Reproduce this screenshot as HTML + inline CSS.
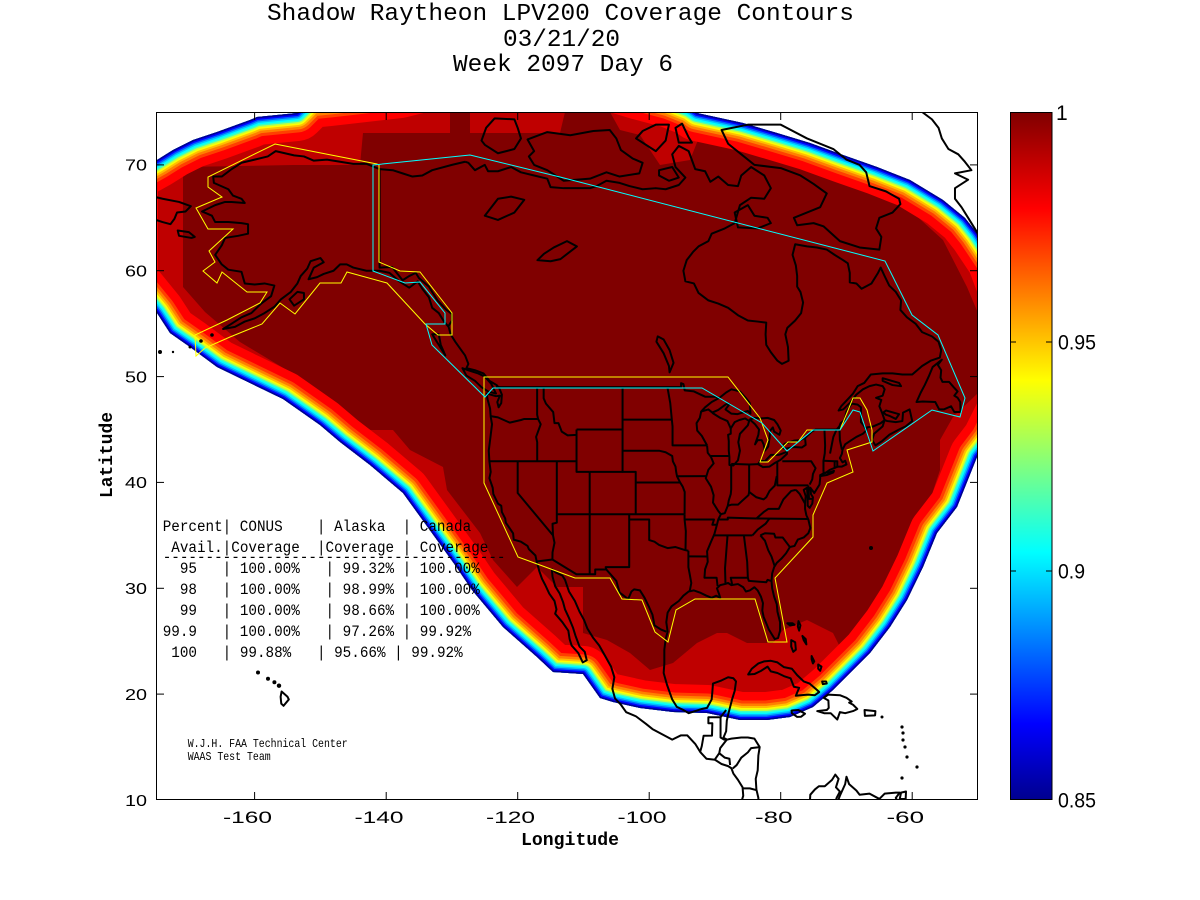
<!DOCTYPE html>
<html><head><meta charset="utf-8"><style>
html,body{margin:0;padding:0;background:#fff;}
svg{display:block;}
.m{font-family:"Liberation Mono",monospace;fill:#000;}
.s{font-family:"Liberation Sans",sans-serif;fill:#000;}
.c{fill:none;stroke:#000;stroke-width:2;vector-effect:non-scaling-stroke;stroke-linejoin:round;}
.tb text{white-space:pre;}
</style></head><body>
<svg width="1200" height="900" viewBox="0 0 1200 900" xmlns="http://www.w3.org/2000/svg">
<defs>
<clipPath id="plot"><rect x="156" y="112" width="822" height="688"/></clipPath>
<clipPath id="cov"><polygon id="outerp" points="130,175 157,160 173,150 193,140 217,132 250,120 257,117 297,113 310,100 330,98 400,90 440,80 600,80 640,92 670,100 690,108 697,113 743,123 777,133 810,143 843,155 877,167 910,180 943,200 965,218 977,233 995,260 1010,300 1010,400 990,440 977,457 957,507 937,533 923,567 907,600 890,627 870,653 850,673 833,690 813,707 790,717 767,720 740,720 707,713 673,712 640,708 613,702 600,698 583,674 553,672 537,657 503,627 472,590 455,565 437,540 403,493 370,465 340,442 320,425 283,399 250,383 217,367 190,347 170,333 157,313 130,280"/></clipPath>
<linearGradient id="jet" x1="0" y1="1" x2="0" y2="0">
<stop offset="0" stop-color="#00008f"/><stop offset="0.11" stop-color="#0000ff"/><stop offset="0.36" stop-color="#00ffff"/><stop offset="0.61" stop-color="#ffff00"/><stop offset="0.86" stop-color="#ff0000"/><stop offset="1" stop-color="#800000"/>
</linearGradient>
</defs>

<text class="m" x="267" y="20" font-size="24.4" textLength="587" lengthAdjust="spacingAndGlyphs">Shadow Raytheon LPV200 Coverage Contours</text>
<text class="m" x="503" y="46" font-size="24.4" textLength="117" lengthAdjust="spacingAndGlyphs">03/21/20</text>
<text class="m" x="453" y="71" font-size="24.4" textLength="220" lengthAdjust="spacingAndGlyphs">Week 2097 Day 6</text>

<g clip-path="url(#plot)">
  <use href="#outerp" fill="#bf0000"/>
  <polygon fill="#800000" points="183,167 293,165 360,165 363,133 450,133 450,112 470,112 470,133 560,133 565,112 610,112 620,130 640,135 660,165 690,160 700,135 730,140 775,145 795,160 830,167 860,177 885,193 910,210 943,240 967,287 978,313 978,393 953,417 940,440 940,470 930,500 917,527 907,553 893,580 873,607 860,633 840,647 833,633 807,620 783,630 773,643 747,643 727,633 717,633 697,643 673,663 650,670 630,653 607,640 583,633 583,587 557,587 537,567 517,587 493,560 480,533 447,490 443,467 410,450 393,430 370,430 330,402 290,372 240,342 205,312 183,287"/>
  <g clip-path="url(#cov)" fill="none" stroke-linejoin="round">
    <use href="#outerp" stroke="#ff0000" stroke-width="56"/>
    <use href="#outerp" stroke="#ff4000" stroke-width="39"/>
    <use href="#outerp" stroke="#ff8000" stroke-width="33"/>
    <use href="#outerp" stroke="#ffbf00" stroke-width="28"/>
    <use href="#outerp" stroke="#ffff00" stroke-width="24"/>
    <use href="#outerp" stroke="#bfff40" stroke-width="21"/>
    <use href="#outerp" stroke="#40ffbf" stroke-width="18"/>
    <use href="#outerp" stroke="#00ffff" stroke-width="15"/>
    <use href="#outerp" stroke="#00bfff" stroke-width="12"/>
    <use href="#outerp" stroke="#0060ff" stroke-width="9"/>
    <use href="#outerp" stroke="#0000ff" stroke-width="6"/>
    <use href="#outerp" stroke="#00008f" stroke-width="3"/>
  </g>

  <g transform="matrix(6.576 0 0 -10.585 1306.8 905.85)">
    <polyline class="c" points="-128,70.3 -130,70 -133,69.5 -134.5,69 -136,68.9 -137.5,69.2 -139,69.5 -141,69.6 -143,70.1 -145,70.1 -147,70.3 -149,70.5 -151,70.4 -152.5,70.8 -154,70.9 -156.8,71.3 -158,70.8 -160,70.5 -162,70.2 -163.5,69.6 -165,68.9 -166.3,68.9 -166.2,68.3 -164,67.7 -163.3,67.1 -162,66.8 -161.5,66.4 -163.5,66.5 -164.5,66.5 -166,66.2 -168,65.6 -166.5,65.2 -166,64.6 -164,64.6 -162,64.5 -161,64.4 -161,63.5 -162.5,63.3 -164.5,63.1 -165,62.4 -166,61.5 -165,60.6 -164,60.1 -162,59.9 -161.5,58.8 -160,58.7 -158.5,58.8 -157,58.6 -157.5,57.6 -159,56.9 -160.5,56 -162,55.6 -163.5,55 -164.8,54.5 -163,54.7 -161.5,55.2 -160,55.5 -158.5,56 -157,56.6 -156,57.3 -154.5,58 -153.5,58.8 -153,59.5 -152,60.2 -151.5,60.9 -150,61.2 -149.5,60.8 -151,60.3 -151.8,59.2 -150.5,59.4 -149.5,59.7 -148,60 -147,60.6 -146,60.6 -145,60.3 -143,60 -141,60 -139.5,59.8 -138,59 -136.5,58.4 -135.2,59 -134.5,58.3 -133.5,57.5 -133,56.5 -132,56 -131.2,55.2 -130.5,54.7 -130.2,54 -129.5,53.3 -128.7,52.6 -128,52 -127.5,51.2 -127.8,50.8 -126.5,50.6 -125.2,50.3 -124.3,49.6 -123.2,49.2 -122.8,48.9 -122.4,48.3 -122.5,47.5 -122.9,47.1 -123.1,47.6 -122.7,48.2 -123.3,48.15 -124.7,48.4 -124.6,47.9 -124.2,47 -124.1,46.2 -123.9,45.5 -124.1,44.5 -124.4,43 -124.3,42 -124.1,41 -124.3,40.4 -123.8,39.5 -123.7,38.9 -123,38 -122.5,37.8 -122.4,37.2 -121.9,36.6 -121.8,36.2 -120.7,35.2 -120.6,34.6 -119.5,34.4 -118.5,34 -118.3,33.7 -117.3,33.1 -117.1,32.5 -116.7,31.6 -116.3,30.9 -115.8,30.3 -115.2,29.5 -114.4,28.8 -114.1,28 -114.3,27.6 -113.2,26.8 -112.3,26 -112.1,25.2 -111.8,24.6 -110.8,23.9 -110.1,23 -109.5,23.2 -109.8,24 -110.6,24.5 -111.2,25.5 -111.6,26.3 -112.2,27.2 -112.8,28 -113.1,28.7 -113.6,29.5 -114.3,30.2 -114.7,31.1 -114.8,31.8 -114.2,31.5 -113.2,31.2 -112.8,30.8 -112.2,29.7 -111.3,28.8 -110.6,27.8 -109.9,27 -109.4,26.2 -108.5,25.3 -107.6,24.6 -106.7,23.6 -105.8,22.6 -105.3,21.6 -105.6,20.5 -105.2,19.6 -104.3,19 -103.5,18.3 -102,17.9 -100.5,17.2 -99.5,16.7 -98,16.2 -96.5,15.7 -95.2,16.1 -94.2,16.1 -93,15.3 -92.2,14.5 -91.3,13.9 -90,13.8 -89,13.4 -88,13.2 -87.5,13 -87.2,12.5 -86.5,11.9 -85.8,11.2 -85.7,10.4 -85.9,10 -85.6,9.6"/>
    <polyline class="c" points="-83.4,9.6 -83.4,10.2 -83.7,11 -83.8,12 -83.5,12.8 -83.4,14.2 -83.2,15 -84,15.8 -85,15.9 -86,15.9 -87.5,15.8 -88.2,15.7 -88.7,15.9 -88.3,16.5 -88.2,17.5 -87.9,18.3 -87.4,19.5 -87,20.3 -86.8,21.2 -87.2,21.5 -88,21.6 -89,21.3 -90.3,21 -90.4,20.2 -90.5,19.5 -91.2,18.7 -92,18.6 -93,18.4 -94,18.2 -94.8,18.5 -95.8,18.8 -96.5,19.5 -96.9,20.2 -97.3,20.9 -97.8,22 -97.7,22.9 -97.7,24.2 -97.5,25.2 -97.2,25.9 -97.4,26.8 -97.2,27.7 -96.6,28.3 -95.5,28.8 -94.8,29.3 -94,29.7 -93.2,29.8 -92.3,29.6 -91.3,29.3 -90.5,29.1 -89.8,29.3 -89.2,29.1 -89.4,29.5 -89.7,30 -89.2,30.3 -88.5,30.4 -88,30.5 -87.5,30.3 -86.5,30.4 -85.7,30.1 -85.3,29.7 -84.7,29.8 -84,30.1 -83.5,29.8 -83,29.2 -82.7,28.6 -82.8,27.9 -82.6,27.3 -82.2,26.7 -81.8,26.1 -81.3,25.6 -80.9,25.2 -80.4,25.3 -80.1,26 -80.1,26.8 -80.5,27.8 -80.6,28.5 -81,29.2 -81.3,30 -81.4,30.7 -81.3,31.4 -81,32 -80.6,32.4 -79.9,32.8 -79.2,33.3 -78.6,33.9 -77.9,34 -77.4,34.6 -76.5,34.8 -75.8,35.2 -75.5,35.7 -75.8,36.5 -76.1,36.9 -76.3,37.5 -76.3,38 -76.2,38.7 -76.5,39.3 -76,39.5 -75.9,38.5 -75.9,37.8 -75.6,37.6 -75.2,38 -75.1,38.6 -75.4,38.9 -75.5,39.5 -74.9,39 -74.6,39.3 -74.1,39.8 -74,40.4 -74,40.7 -73.2,40.9 -72.5,41.2 -71.3,41.5 -70.7,41.5 -70,41.7 -70.2,42.05 -70.6,41.9 -71,42.3 -70.7,42.7 -70.6,43.1 -70.2,43.6 -69.5,43.9 -68.5,44.3 -67.5,44.6 -67,44.9 -66.9,45.2 -65.9,45.3 -64.8,45.6 -64.2,45.9 -64.5,45.3 -65.8,44.6 -66.1,44 -65.6,43.5 -64.6,43.9 -63.5,44.5 -62,45 -61,45.3 -60,45.8 -60.4,46.9 -61.4,46.6 -61.5,45.8 -62.5,45.7 -63.8,45.8 -64.2,45.9 -64.6,46.6 -65,47.2 -64.7,47.8 -65.5,48 -64.5,48.2 -64.2,48.8 -64.5,49.1 -65.5,49.25 -66.5,49.1 -67.5,48.8 -68.5,48.3 -69.5,47.5 -70.5,46.9 -71.2,46.8 -70.8,47.2 -69.9,47.8 -69,48.4 -68.3,49.1 -67.3,49.4 -66.3,50.2 -64.5,50.3 -63,50.3 -61.5,50.2 -60,50.2 -58.5,51 -57.2,51.5 -55.8,51.8 -55.6,52.5 -56,53.3 -57,53.8 -58.5,54.2 -59.5,55 -60.8,55.6 -61.8,56.3 -61.7,57.2 -62.5,58 -63.5,58.6 -64.2,59.5 -64.8,60.3 -65.2,59.8 -66.2,58.8 -67.7,58.3 -68.5,58.8 -69.5,58.9 -69.5,59.8 -69.8,60.7 -70.5,61 -71.8,61.5 -73,62 -74.5,62.2 -76,62.3 -77.8,62.5 -78.2,61.5 -77.7,60.5 -77.5,59.5 -77.5,58.5 -77,58 -76.6,57 -76.9,56 -77.8,55.3 -79,54.6 -79.3,54 -78.9,52.8 -78.8,51.5 -79.8,51.2 -80.5,51.5 -81.5,52.3 -82.2,53 -82.3,54 -82.2,55.1 -83.5,55.2 -85,55.3 -86.5,55.8 -88,56.5 -89.5,56.9 -91,57.2 -92.5,57.9 -93.2,58.8 -94.5,59 -94.8,60 -94.3,61 -93.3,61.8 -92.5,62.3 -91,62.8 -90.5,63.5 -88.5,64 -87,64.5 -86.2,66.2 -84.5,66.9 -82.5,66.8 -81.5,67.8 -82.5,69 -84.5,69.8 -86,69 -86.5,68 -88,68.1 -89.5,68.9 -90.7,68.4 -91.5,69.4 -93,69.6 -94,71.3 -95.5,71.8 -96.5,71 -96,69.8 -94.5,68.8 -95.5,68.1 -97.5,67.7 -99,67.8 -101,67.7 -103,68 -104.5,68.3 -106.5,68.5 -108,68 -109,67.8 -111,67.8 -113,67.8 -115,67.9 -115.5,68.7 -117.5,69 -119.5,69.3 -121,69.8 -123,69.4 -124.5,69.4 -125,70 -126.5,69.5 -127.5,70.2 -128,70.3"/>
    <polygon class="c" points="-80,73.8 -76,72.5 -72,71.5 -70,70.5 -68,70 -67,69.3 -66.5,68 -64,67.5 -62,66.8 -61.8,66.3 -63,65.5 -65,65 -65.5,64 -64.7,63.2 -65,62 -68,62.2 -71,62.8 -73.5,64.2 -75,64.5 -77.5,64.3 -78,65 -74,66 -73,67.3 -75,68.2 -77,69 -80,69.7 -84,70 -86,71 -88,72 -89,73.3 -85,73.8"/>
    <polygon class="c" points="-86.5,64.1 -83.5,64 -81.5,64.5 -82,65 -84,65.2 -85,66.2 -87,65.5"/>
    <polygon class="c" points="-101,70.2 -101.5,69.2 -104.5,68.9 -106.5,69.3 -109,68.7 -113,68.5 -115.5,69.5 -117.5,70 -118.3,70.8 -117.5,71.3 -118.5,72.4 -115.5,73.1 -112,72.8 -108.5,73.2 -106,73.3 -105,72.5 -104.3,71.4 -102.5,70.6"/>
    <polygon class="c" points="-125,71.9 -123,71.1 -120.5,71.5 -119.5,72.5 -120,73.5 -120.5,74.3 -123.5,74.4 -124.8,73.5 -125.5,72.3"/>
    <polygon class="c" points="-97,73.8 -97.5,72.3 -99,71.3 -102,72.5 -101,73.2 -99,73.8"/>
    <polygon class="c" points="-95,73.9 -94,72.6 -93.5,72.1 -95.5,72.1 -96,73.5"/>
    <polygon class="c" points="-98.5,69 -97,68.5 -95.5,68.8 -96.5,69.8 -98.5,69.5"/>
    <polyline class="c" points="-58.5,75 -57,74.3 -56,73.5 -55.5,72.5 -54.5,71.5 -53,71 -52,70.3 -51,69.5 -53.5,69.2 -51.5,68.6 -53.5,67.8 -53.5,66.8 -52.5,66 -51.5,65 -50.5,64 -50,63.5"/>
    <polyline class="c" points="-176,67.1 -174,66.8 -171.5,66.5 -169.7,66.1 -170.5,65.6 -171.8,65.5 -172.2,64.9 -172.8,64.4 -174,64.6 -175.5,64.9 -176,65"/>
    <polygon class="c" points="-171.7,63.8 -170,63.65 -169.1,63.2 -169.6,63.1 -171.5,63.3"/>
    <polygon class="c" points="-152.5,57.3 -154,56.7 -154.7,57.3 -153.5,58 -152.5,57.9"/>
    <polygon class="c" points="-123.3,48.4 -124.5,48.6 -125.5,49 -126.5,49.6 -127.8,50.1 -128.4,50.8 -127.5,50.6 -126,50.3 -125,50 -124,49.3"/>
    <polygon class="c" points="-131,52 -131.5,52.5 -132.5,53.5 -133,54 -132,54 -131.7,53"/>
    <polygon class="c" points="-59.35,47.6 -58.4,47.65 -56.5,47.6 -55.9,46.9 -55.2,46.9 -54.1,47.2 -53.6,46.65 -52.65,46.65 -52.7,47.6 -53.1,48 -53.6,48.2 -53.1,48.6 -53.7,49 -54.4,49.5 -55.4,49.5 -55.7,49.9 -55.6,50.6 -56.1,51.1 -55.5,51.6 -56.9,50.9 -57.5,50 -58.1,49.2 -58.7,48.5"/>
    <polygon class="c" points="-64.4,46.6 -64,46.8 -62,46.45 -62.5,46 -63.5,46.3 -64,46.4"/>
    <polygon class="c" points="-64.5,49.85 -62,49.4 -61.7,49.1 -63,49.2 -64.5,49.6"/>
    <polygon class="c" points="-74,40.6 -73,40.7 -72,40.95 -71.9,41.1 -72.6,40.95 -73.5,40.9"/>
    <polygon class="c" points="-92.1,46.7 -91,46.9 -90.4,46.6 -89.5,46.85 -88.3,47.4 -87.8,47.4 -88.4,46.9 -87.5,46.5 -86.6,46.45 -85,46.75 -84.6,46.5 -84.7,47.5 -85.2,47.9 -86.2,48.6 -87.5,48.8 -88.3,48.5 -89.3,48 -90.5,47.6 -91.5,47.1"/>
    <polygon class="c" points="-87.8,41.65 -87.2,41.6 -86.5,42.1 -86.2,43 -86.45,43.8 -86.2,44.6 -85.6,45 -85,45.4 -84.8,45.8 -85.4,46.05 -86.3,45.9 -87,45.7 -87.6,45.1 -87.6,44.6 -88,44.5 -87.9,43.9 -87.9,43 -87.8,42.4"/>
    <polygon class="c" points="-84.7,45.95 -84,46.1 -83,46.05 -82,46.1 -81,45.9 -80.5,45.5 -80,44.9 -80.2,44.5 -81,44.8 -81.2,45.2 -81.6,44.9 -81.7,44.2 -81.9,43.4 -82.4,43 -82.6,43.6 -82.9,44 -83.5,44 -83.9,43.6 -83.4,44.5 -83.3,45 -83.9,45.5"/>
    <polygon class="c" points="-83.45,41.73 -82.7,41.45 -81.7,41.5 -81,41.8 -80,42.15 -79.05,42.7 -79.05,42.9 -80.3,42.6 -81.5,42.6 -82.4,42 -83.1,42.05"/>
    <polygon class="c" points="-79.8,43.25 -79.2,43.2 -78,43.35 -76.8,43.3 -76.2,43.55 -76.3,44.2 -77,44 -78,43.95 -79.4,43.65"/>
    <polygon class="c" points="-96.9,50.4 -96.3,51.3 -96.9,52.5 -97.8,53.5 -98.7,53.8 -98.9,53.3 -97.8,52.2 -97,51"/>
    <polygon class="c" points="-117,61 -115,60.9 -113.5,61.1 -111,62.3 -112.5,62.8 -114.5,62.2 -116,61.6"/>
    <polygon class="c" points="-125,65.2 -123,64.8 -120.5,65.5 -119,66.7 -121,67 -123,66.8"/>
    <polygon class="c" points="-84.95,21.86 -84.4,22.4 -83.4,22.9 -82.5,23.1 -81.5,23.15 -80.5,23 -79.5,22.55 -78.3,22.4 -77.5,21.8 -76.5,21.2 -75.6,21 -74.5,20.4 -74.15,20.2 -74.8,19.9 -75.8,19.95 -77,19.9 -77.7,19.85 -77.2,20.6 -78,20.7 -78.5,21.5 -79.5,21.7 -80.5,22 -81.5,22.15 -82,22.6 -83,22.2 -84,21.9"/>
    <polygon class="c" points="-74.45,18.4 -73.4,18.2 -72.4,18.2 -71.4,17.6 -71,18.3 -70.2,18.2 -69,18.4 -68.35,18.6 -69,19 -69.6,19.2 -69.2,19.3 -70,19.65 -71,19.9 -72.8,19.95 -73.45,19.65 -72.75,19.4 -72.7,18.7 -73,18.5"/>
    <polygon class="c" points="-78.35,18.45 -77.3,18.5 -76.3,18.15 -76.9,17.87 -77.5,17.85 -78.3,18.2"/>
    <polygon class="c" points="-67.25,18.5 -65.6,18.4 -65.65,18 -67.2,17.95"/>
    <polygon class="c" points="-78.4,25.1 -77.8,24.9 -77.7,24.2 -78.1,24 -78.4,24.5"/>
    <polygon class="c" points="-79,26.7 -78.2,26.7 -77.9,26.55 -78.6,26.5"/>
    <polygon class="c" points="-77.3,26.9 -77,26.5 -77.2,26 -77.4,26.4"/>
    <polygon class="c" points="-76.7,25.5 -76.2,25.2 -76.1,24.7 -76.5,25.1"/>
    <polygon class="c" points="-75.3,23.6 -74.9,23.1 -75.1,22.9 -75.3,23.3"/>
    <polygon class="c" points="-73.7,21.2 -73.1,21.2 -73,21 -73.6,20.95"/>
    <polygon class="c" points="-74.3,22.8 -73.8,22.6 -74,22.2 -74.3,22.4"/>
    <polyline class="c" points="-77.3,8.6 -76.8,8.9 -75.6,9.5 -75.5,10.5 -74.8,11 -74.2,11.3 -73.3,11.3 -72.2,11.9 -71.7,12.4 -71.2,12 -71.6,11.2 -71,10.8 -71.5,10.2 -71.8,9.6 -72.3,9.6"/>
    <polyline class="c" points="-71.5,9.6 -71,10.4 -70.2,11.5 -70,12.2 -69.6,11.5 -68.5,10.9 -68,10.5 -66.5,10.6 -65,10.1 -64.2,10.6 -62.5,10.7 -61.9,10.7 -62.5,10.2 -62,9.6"/>
    <polygon class="c" points="-61.9,10.1 -61,10.1 -60.95,10.8 -61.7,10.7"/>
    <polyline class="c" points="-92.25,14.55 -92,15.1 -91.73,16.07 -90.45,16.08 -90.4,17.25 -91,17.25 -91,17.82 -89.15,17.82 -88.3,18.5"/>
    <polyline class="c" points="-89.15,17.82 -89.15,15.9 -88.6,15.7 -88.2,15.75"/>
    <polyline class="c" points="-88.2,15.7 -89.2,14.9 -89.35,14.42 -90.1,13.75"/>
    <polyline class="c" points="-89.35,14.42 -88.5,14 -87.8,13.9 -87.7,13.3"/>
    <polyline class="c" points="-87.3,12.98 -86.7,13.3 -86,14 -85,14.5 -84.5,14.9 -83.2,15"/>
    <polyline class="c" points="-85.7,11.1 -84.7,11.1 -83.65,10.93"/>
    <polyline class="c" points="-123.3,49 -95.15,49 -95.15,49.38 -94.8,49.3 -94.6,48.7 -93.2,48.6 -91.5,48.1 -90,48.1 -89.5,48"/>
    <polyline class="c" points="-124,46.25 -123,46.15 -121.2,45.65 -119.5,45.9 -119,46 -116.9,46"/>
    <polyline class="c" points="-117.04,49 -117.04,46.4 -116.9,46 -116.5,45.5 -117.2,44.3 -117.03,43.8 -117.03,42"/>
    <polyline class="c" points="-124.2,42 -111.05,42"/>
    <polyline class="c" points="-116.05,49 -116.05,47.95 -115.7,47.45 -114.6,46.65 -114.4,45.6 -113.8,45.6 -113.3,44.8 -112.4,44.45 -111.05,44.5 -111.05,45"/>
    <polyline class="c" points="-111.05,44.5 -111.05,41 -109.05,41"/>
    <polyline class="c" points="-111.05,45 -104.05,45"/>
    <polyline class="c" points="-104.05,49 -104.05,41 -102.05,41 -102.05,37"/>
    <polyline class="c" points="-109.05,41 -104.05,41"/>
    <polyline class="c" points="-109.05,41 -109.05,31.33"/>
    <polyline class="c" points="-120,42 -120,39 -114.63,35 -114.4,34.3 -114.7,33.4 -114.72,32.72"/>
    <polyline class="c" points="-114.05,42 -114.05,36.2 -114.7,36.1 -114.63,35"/>
    <polyline class="c" points="-114.05,37 -94.62,37"/>
    <polyline class="c" points="-103.04,37 -103.04,32 -106.62,32 -106.53,31.78"/>
    <polyline class="c" points="-103.04,36.5 -100,36.5 -100,34.56 -99.2,34.4 -98.5,34.1 -97.2,33.8 -96,33.9 -94.5,33.6 -94.04,33.55"/>
    <polyline class="c" points="-94.04,33.55 -94.04,32 -93.8,31.2 -93.6,30.5 -93.85,29.7"/>
    <polyline class="c" points="-94.04,33.02 -91.15,33"/>
    <polyline class="c" points="-94.62,37 -94.62,36.5 -94.43,35.4 -94.48,33.64"/>
    <polyline class="c" points="-94.62,36.5 -90.15,36.5 -90.4,36 -89.7,36"/>
    <polyline class="c" points="-104.05,45.94 -96.56,45.94"/>
    <polyline class="c" points="-104.05,43 -98.5,43 -97.5,42.85 -96.5,42.5 -96.4,42 -96,41.5 -95.9,41 -95.77,40.58 -95.3,40 -94.9,39.6 -94.6,39.1 -94.62,37"/>
    <polyline class="c" points="-102.05,40 -95.3,40"/>
    <polyline class="c" points="-96.56,45.94 -96.8,47.5 -97.23,49"/>
    <polyline class="c" points="-96.56,45.94 -96.45,45.3 -96.45,43.5 -91.2,43.5"/>
    <polyline class="c" points="-95.77,40.58 -91.4,40.6"/>
    <polyline class="c" points="-92.1,46.7 -92.3,46.1 -92.8,45.6 -92.7,44.9 -92,44.4 -91.2,43.5"/>
    <polyline class="c" points="-91.2,43.5 -91.1,42.8 -90.6,42.4 -90.2,41.8 -91,41.2 -91.4,40.4 -90.6,39.6 -90.2,38.8 -90.3,38.1 -89.5,37.3 -89.1,37 -89.5,36.5 -89.7,36 -90.1,35.1 -90.6,34.4 -91.2,33.5 -91.1,32.5 -91.5,31.8 -91.6,31 -89.75,31 -89.6,30.2"/>
    <polyline class="c" points="-90.64,42.5 -87.8,42.5"/>
    <polyline class="c" points="-90.4,46.57 -89.2,46.1 -88.1,45.8 -87.6,45.1"/>
    <polyline class="c" points="-87.53,41.7 -87.53,39.35 -87.6,38.9 -87.9,38.3 -88.05,37.8"/>
    <polyline class="c" points="-89.1,37 -88.5,37.1 -88.05,37.8 -87.5,37.9 -86.5,37.9 -85.8,38.3 -84.9,38.8 -84.8,39.1 -83.7,38.6 -82.6,38.4 -82.2,38.6 -81.7,39.2 -80.9,39.7 -80.6,40.6"/>
    <polyline class="c" points="-84.8,41.7 -84.8,39.1"/>
    <polyline class="c" points="-87.53,41.76 -84.8,41.7 -83.45,41.73"/>
    <polyline class="c" points="-89.5,36.5 -88.05,36.5 -88.05,36.68 -83.7,36.6"/>
    <polyline class="c" points="-90.3,35 -84.3,35"/>
    <polyline class="c" points="-84.3,35 -83.5,35.55 -82.3,36.1 -81.7,36.6"/>
    <polyline class="c" points="-83.7,36.6 -75.87,36.55"/>
    <polyline class="c" points="-83.7,36.6 -82.6,37.2 -81.9,37.5 -80.3,37.5 -79.6,38.4 -78.4,39.2 -77.7,39.3"/>
    <polyline class="c" points="-80.52,42 -80.52,39.72 -75.8,39.72"/>
    <polyline class="c" points="-79.76,42 -75.36,42 -74.7,41.35 -75.1,40.8 -75.2,40.3 -75.6,39.8"/>
    <polyline class="c" points="-75.8,39.72 -75.7,38.45 -75.05,38.45"/>
    <polyline class="c" points="-77.7,39.3 -77.1,38.9 -76.3,38"/>
    <polyline class="c" points="-88.2,35 -88.1,34.9 -88.47,31.9 -88.4,30.4"/>
    <polyline class="c" points="-85.6,35 -85.1,32.5 -85,31"/>
    <polyline class="c" points="-87.4,30.4 -87.6,31 -85,31 -84.86,30.7 -82.2,30.57 -82,30.8 -81.5,30.7"/>
    <polyline class="c" points="-83.1,35 -82.4,34.5 -81.9,33.6 -81.4,33 -80.9,32.05"/>
    <polyline class="c" points="-83.1,35 -82.4,35.2 -81,35.15 -80.8,34.8 -79.7,34.8 -78.55,33.85"/>
    <polyline class="c" points="-73.35,45 -73.25,43.5 -73.3,42.75 -73.5,42.05 -73.5,41"/>
    <polyline class="c" points="-71.5,45 -72,44.3 -72.5,42.73"/>
    <polyline class="c" points="-71.08,45.3 -71,44 -70.7,43.1"/>
    <polyline class="c" points="-73.5,42.05 -71.8,42 -71.4,42 -71.4,41.4"/>
    <polyline class="c" points="-71.8,42 -71.8,41.3"/>
    <polyline class="c" points="-76.3,44.2 -75.3,44.8 -74.7,45 -73.35,45 -71.5,45 -71.08,45.3 -70.9,45.6 -70.3,45.9 -70,46.7 -69.2,47.45 -68.3,47.35 -67.8,47.1 -67.8,45.7 -67.4,45.4 -67,45"/>
    <polyline class="c" points="-117.12,32.53 -114.72,32.72 -111.07,31.33 -108.21,31.33 -108.21,31.78 -106.53,31.78 -105,30.7 -104.5,29.6 -103.2,28.98 -102.7,29.7 -102.3,29.9 -101.4,29.8 -100.7,29.1 -100,28.2 -99.5,27.5 -99.2,26.5 -98.2,26.1 -97.4,25.9"/>
    <polyline class="c" points="-141,69.65 -141,60.3 -139.1,60.35 -137.5,59.1 -136.5,59.5 -135.5,59.8 -135,59.3 -133.5,58.5 -132.2,57.2 -131,56.4 -130,55.9 -130,55.3 -130.6,54.7"/>
    <polygon class="c" points="-155.9,20.25 -155,19.75 -154.8,19.5 -155.6,18.9 -155.95,19.1 -156.05,19.75"/>
  </g>
  <g fill="#000">
    <circle cx="212" cy="335" r="1.8"/><circle cx="201" cy="341" r="1.8"/><circle cx="190" cy="347" r="1.5"/><circle cx="173" cy="352" r="1.2"/><circle cx="160" cy="352" r="2"/>
    <circle cx="258" cy="672.5" r="2"/><circle cx="268" cy="678.8" r="2"/><circle cx="274.4" cy="682.2" r="2"/><circle cx="279" cy="685.7" r="2.2"/>
    <circle cx="902" cy="727" r="1.6"/><circle cx="903" cy="733" r="1.6"/><circle cx="903" cy="740" r="1.6"/><circle cx="905" cy="747" r="1.6"/><circle cx="907" cy="757" r="1.6"/><circle cx="917" cy="767" r="1.6"/><circle cx="902" cy="778" r="1.6"/><circle cx="882" cy="717" r="1.5"/><circle cx="871" cy="548" r="2"/>
  </g>
  <polygon fill="none" stroke="#ffff00" stroke-width="1" points="275,144 377,164 379,165 379,262 400,271 420,272 452,313 452,335 438,335 425,324 387,283 347,272 341,283 320,283 295,314 280,303 262,324 230,337 205,348 196,356 195,335 227,320 260,303 267,292 247,292 222,272 217,283 203,271 215,262 209,251 233,229 208,229 196,208 222,197 208,187 208,177"/>
  <polygon fill="none" stroke="#ffff00" stroke-width="1" points="484,377 728,377 760,418 768,440 760,462 768,462 788,442 798,442 807,430 840,430 853,398 860,398 867,410 872,430 872,442 847,450 853,472 827,483 813,515 813,537 775,578 787,642 768,642 755,599 695,599 676,610 668,642 655,632 642,600 622,599 610,578 575,578 540,565 518,557 484,483"/>
  <polygon fill="none" stroke="#00ffff" stroke-width="1" points="373,165 470,155 560,177 885,261 912,315 938,335 965,398 960,417 932,410 873,451 860,412 853,410 840,430 813,430 787,451 762,423 702,388 493,388 485,397 432,345 426,324 445,324 445,313 420,282 405,283 373,271"/>
</g>

<rect x="156.5" y="112.5" width="821" height="687" fill="none" stroke="#000" stroke-width="1"/>
<g stroke="#000" stroke-width="1">
  <line x1="254.6" y1="800" x2="254.6" y2="792"/><line x1="386.2" y1="800" x2="386.2" y2="792"/><line x1="517.7" y1="800" x2="517.7" y2="792"/><line x1="649.2" y1="800" x2="649.2" y2="792"/><line x1="780.7" y1="800" x2="780.7" y2="792"/><line x1="912.2" y1="800" x2="912.2" y2="792"/>
  <line x1="254.6" y1="112" x2="254.6" y2="120"/><line x1="386.2" y1="112" x2="386.2" y2="120"/><line x1="517.7" y1="112" x2="517.7" y2="120"/><line x1="649.2" y1="112" x2="649.2" y2="120"/><line x1="780.7" y1="112" x2="780.7" y2="120"/><line x1="912.2" y1="112" x2="912.2" y2="120"/>
  <line x1="156" y1="694.1" x2="164" y2="694.1"/><line x1="156" y1="588.3" x2="164" y2="588.3"/><line x1="156" y1="482.4" x2="164" y2="482.4"/><line x1="156" y1="376.6" x2="164" y2="376.6"/><line x1="156" y1="270.7" x2="164" y2="270.7"/><line x1="156" y1="164.9" x2="164" y2="164.9"/>
  <line x1="970" y1="694.1" x2="978" y2="694.1"/><line x1="970" y1="588.3" x2="978" y2="588.3"/><line x1="970" y1="482.4" x2="978" y2="482.4"/><line x1="970" y1="376.6" x2="978" y2="376.6"/><line x1="970" y1="270.7" x2="978" y2="270.7"/><line x1="970" y1="164.9" x2="978" y2="164.9"/>
</g>

<g class="s" font-size="17">
  <text x="223" y="823" textLength="49" lengthAdjust="spacingAndGlyphs">-160</text>
  <text x="354.5" y="823" textLength="49" lengthAdjust="spacingAndGlyphs">-140</text>
  <text x="486" y="823" textLength="49" lengthAdjust="spacingAndGlyphs">-120</text>
  <text x="617.5" y="823" textLength="49" lengthAdjust="spacingAndGlyphs">-100</text>
  <text x="755" y="823" textLength="37.5" lengthAdjust="spacingAndGlyphs">-80</text>
  <text x="886.5" y="823" textLength="37.5" lengthAdjust="spacingAndGlyphs">-60</text>
</g>
<g class="s" font-size="16">
  <text x="125" y="806" textLength="22" lengthAdjust="spacingAndGlyphs">10</text>
  <text x="125" y="700" textLength="22" lengthAdjust="spacingAndGlyphs">20</text>
  <text x="125" y="594" textLength="22" lengthAdjust="spacingAndGlyphs">30</text>
  <text x="125" y="488" textLength="22" lengthAdjust="spacingAndGlyphs">40</text>
  <text x="125" y="382.5" textLength="22" lengthAdjust="spacingAndGlyphs">50</text>
  <text x="125" y="276.5" textLength="22" lengthAdjust="spacingAndGlyphs">60</text>
  <text x="125" y="170.5" textLength="22" lengthAdjust="spacingAndGlyphs">70</text>
</g>
<text class="m" x="521" y="845" font-size="18" font-weight="bold" textLength="98" lengthAdjust="spacingAndGlyphs">Longitude</text>
<text class="m" transform="translate(112,455) rotate(-90)" text-anchor="middle" font-size="18" font-weight="bold" textLength="86" lengthAdjust="spacingAndGlyphs">Latitude</text>

<g class="m tb" font-size="15.5">
<text x="162.7" y="531" style="white-space:pre" textLength="308.5" lengthAdjust="spacingAndGlyphs">Percent| CONUS    | Alaska  | Canada</text>
<text x="162.7" y="552" style="white-space:pre" textLength="325.7" lengthAdjust="spacingAndGlyphs"> Avail.|Coverage  |Coverage | Coverage</text>
<text x="162.7" y="561.5" style="white-space:pre" textLength="342.8" lengthAdjust="spacingAndGlyphs">----------------------------------------</text>
<text x="162.7" y="573" style="white-space:pre" textLength="317.1" lengthAdjust="spacingAndGlyphs">  95   | 100.00%   | 99.32% | 100.00%</text>
<text x="162.7" y="594" style="white-space:pre" textLength="317.1" lengthAdjust="spacingAndGlyphs">  98   | 100.00%   | 98.99% | 100.00%</text>
<text x="162.7" y="615" style="white-space:pre" textLength="317.1" lengthAdjust="spacingAndGlyphs">  99   | 100.00%   | 98.66% | 100.00%</text>
<text x="162.7" y="636" style="white-space:pre" textLength="308.5" lengthAdjust="spacingAndGlyphs">99.9   | 100.00%   | 97.26% | 99.92%</text>
<text x="162.7" y="657" style="white-space:pre" textLength="300" lengthAdjust="spacingAndGlyphs"> 100   | 99.88%   | 95.66% | 99.92%</text>
</g>
<text class="m" x="187.7" y="747" font-size="12" textLength="160" lengthAdjust="spacingAndGlyphs">W.J.H. FAA Technical Center</text>
<text class="m" x="187.7" y="760" font-size="12" textLength="83" lengthAdjust="spacingAndGlyphs">WAAS Test Team</text>

<rect x="1010.5" y="112.5" width="41.5" height="687" fill="url(#jet)" stroke="#000" stroke-width="1"/>
<g stroke="#000" stroke-width="1">
  <line x1="1010" y1="342" x2="1016" y2="342"/><line x1="1046" y1="342" x2="1052" y2="342"/>
  <line x1="1010" y1="571" x2="1016" y2="571"/><line x1="1046" y1="571" x2="1052" y2="571"/>
</g>
<g class="s" font-size="21">
  <text x="1056" y="120">1</text>
  <text x="1058" y="349.5" textLength="38" lengthAdjust="spacingAndGlyphs">0.95</text>
  <text x="1058" y="578.5" textLength="27" lengthAdjust="spacingAndGlyphs">0.9</text>
  <text x="1058" y="807.5" textLength="38" lengthAdjust="spacingAndGlyphs">0.85</text>
</g>
</svg>
</body></html>
